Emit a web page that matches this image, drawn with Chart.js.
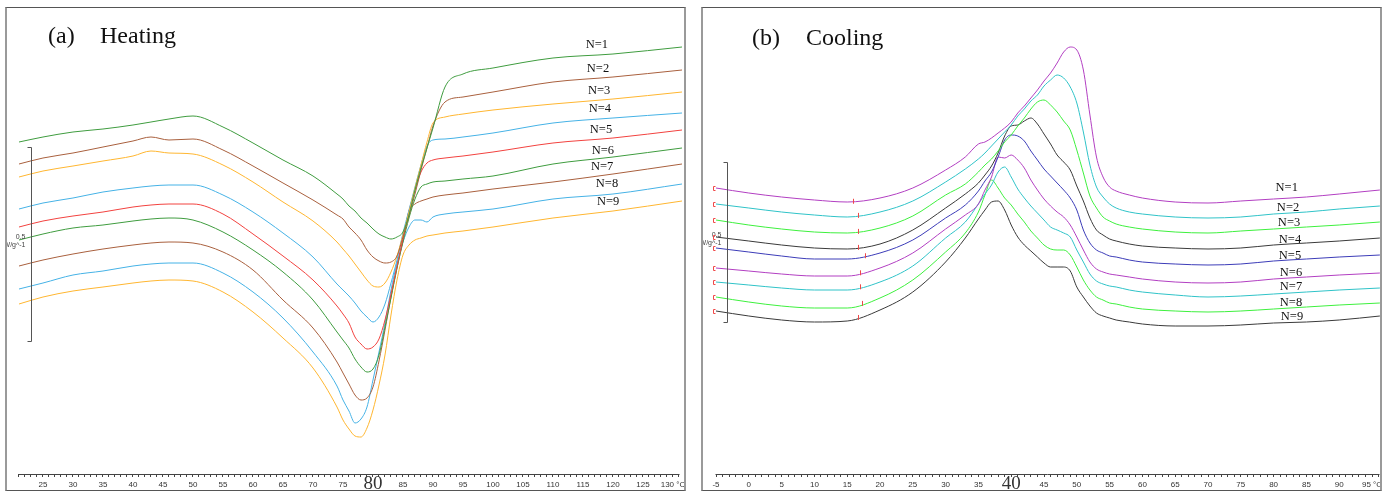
<!DOCTYPE html>
<html><head><meta charset="utf-8">
<script src="https://cdn.jsdelivr.net/npm/chart.js@4.4.0/dist/chart.umd.min.js"></script>
<style>
html,body{margin:0;padding:0;background:#fff;width:1389px;height:491px;overflow:hidden;}
.wrap{position:absolute;}
.wrap canvas{display:block;}
.frame{position:absolute;box-sizing:border-box;border:1px solid #555;border-left:2px solid #9a9a9a;border-right:2px solid #9a9a9a;pointer-events:none;}
.title{position:absolute;font-family:"Liberation Serif","Times New Roman",serif;font-size:24px;line-height:24px;color:#111;white-space:pre;}
</style></head><body>
<div class="wrap" style="left:5px;top:7px;width:681px;height:484px"><canvas id="ca" width="681" height="484"></canvas></div>
<div class="frame" style="left:5px;top:7px;width:681px;height:484px"></div>
<div class="wrap" style="left:701px;top:7px;width:681px;height:484px"><canvas id="cb" width="681" height="484"></canvas></div>
<div class="frame" style="left:701px;top:7px;width:681px;height:484px"></div>
<div class="title" style="left:48px;top:23px">(a)</div>
<div class="title" style="left:100px;top:23px">Heating</div>
<div class="title" style="left:752px;top:25px">(b)</div>
<div class="title" style="left:806px;top:25px">Cooling</div>
<script>
// ---------- DATA (heat flow, arbitrary mW units, exo up) ----------
const heatT = [21,25,30,35,40,43,46,50,55,60,65,70,74,75,76,77,78,79,80,81,82,83,84,85,86,87,88,89,90,92,95,100,110,120,131.5];
const heatN1 = [3.58,3.63,3.68,3.71,3.75,3.78,3.81,3.84,3.73,3.57,3.40,3.24,3.06,3.01,2.94,2.89,2.82,2.77,2.71,2.66,2.63,2.61,2.63,2.68,2.85,3.10,3.32,3.52,3.72,4.13,4.26,4.32,4.42,4.46,4.53];
const heatN2 = [3.36,3.42,3.47,3.53,3.59,3.63,3.60,3.61,3.50,3.34,3.17,3.00,2.85,2.81,2.73,2.67,2.60,2.50,2.43,2.39,2.37,2.38,2.44,2.63,2.84,3.06,3.30,3.52,3.74,3.98,4.03,4.08,4.18,4.23,4.30];
const heatN3 = [3.23,3.29,3.34,3.39,3.44,3.49,3.47,3.46,3.35,3.18,2.98,2.79,2.58,2.51,2.44,2.36,2.28,2.20,2.14,2.13,2.17,2.28,2.44,2.65,2.88,3.12,3.35,3.58,3.77,3.83,3.86,3.90,3.96,4.01,4.08];
const heatN4 = [2.91,2.97,3.02,3.08,3.12,3.14,3.15,3.15,3.05,2.88,2.67,2.43,2.16,2.10,2.04,1.97,1.89,1.83,1.78,1.83,1.96,2.17,2.40,2.67,2.90,3.13,3.35,3.54,3.60,3.61,3.63,3.67,3.77,3.82,3.87];
const heatN5 = [2.73,2.79,2.84,2.88,2.93,2.95,2.96,2.96,2.86,2.66,2.44,2.20,1.94,1.86,1.77,1.63,1.56,1.51,1.53,1.61,1.80,2.06,2.34,2.61,2.89,3.10,3.28,3.37,3.40,3.42,3.44,3.48,3.57,3.62,3.70];
const heatN6 = [2.60,2.66,2.72,2.75,2.79,2.81,2.82,2.80,2.68,2.50,2.28,2.00,1.68,1.60,1.52,1.41,1.33,1.28,1.31,1.45,1.73,2.02,2.32,2.58,2.82,3.01,3.13,3.16,3.18,3.19,3.21,3.24,3.36,3.43,3.52];
const heatN7 = [2.34,2.40,2.46,2.51,2.55,2.57,2.58,2.57,2.48,2.30,2.00,1.72,1.38,1.27,1.16,1.05,1.00,1.02,1.13,1.39,1.70,2.03,2.32,2.60,2.89,2.96,2.99,3.01,3.03,3.05,3.07,3.11,3.18,3.26,3.36];
const heatN8 = [2.11,2.17,2.25,2.29,2.34,2.36,2.37,2.37,2.27,2.08,1.82,1.48,1.14,1.00,0.89,0.77,0.81,0.93,1.20,1.48,1.77,2.10,2.37,2.58,2.73,2.80,2.80,2.78,2.83,2.86,2.88,2.91,3.01,3.06,3.16];
const heatN9 = [1.96,2.03,2.09,2.13,2.17,2.19,2.20,2.19,2.08,1.88,1.62,1.32,0.93,0.80,0.71,0.64,0.63,0.72,0.90,1.15,1.45,1.85,2.20,2.45,2.55,2.60,2.62,2.64,2.65,2.67,2.69,2.73,2.82,2.89,2.99];

const coolT = [-5,0,5,10,15,20,25,30,33,35,36,37,38,39,40,41,42,43,44,45,46,47,48,49,50,51,52,53,54,55,56,58,60,65,70,75,80,85,90,96.2];
const coolN1 = [3.12,3.07,3.03,3.00,2.98,3.02,3.12,3.30,3.43,3.56,3.58,3.62,3.67,3.72,3.78,3.87,3.94,4.02,4.10,4.19,4.27,4.37,4.48,4.53,4.50,4.30,3.85,3.43,3.23,3.13,3.09,3.05,3.02,2.98,2.97,2.99,3.01,3.03,3.06,3.10];
const coolN2 = [2.96,2.92,2.88,2.85,2.83,2.88,2.99,3.18,3.31,3.41,3.47,3.54,3.61,3.68,3.75,3.84,3.91,3.99,4.05,4.14,4.20,4.25,4.22,4.13,3.97,3.68,3.35,3.13,3.03,2.96,2.92,2.88,2.86,2.83,2.82,2.83,2.86,2.88,2.91,2.94];
const coolN3 = [2.80,2.75,2.71,2.68,2.67,2.72,2.84,3.05,3.16,3.28,3.35,3.41,3.49,3.58,3.65,3.74,3.82,3.91,3.98,4.00,3.95,3.88,3.79,3.70,3.50,3.27,3.04,2.92,2.83,2.79,2.76,2.73,2.71,2.68,2.67,2.69,2.71,2.73,2.75,2.78];
const coolN4 = [2.63,2.59,2.55,2.52,2.51,2.56,2.70,2.92,3.06,3.17,3.25,3.34,3.47,3.64,3.74,3.75,3.79,3.82,3.76,3.66,3.56,3.45,3.38,3.30,3.14,2.99,2.82,2.70,2.65,2.61,2.59,2.56,2.54,2.52,2.51,2.52,2.55,2.57,2.59,2.62];
const coolN5 = [2.52,2.48,2.44,2.41,2.41,2.47,2.60,2.82,2.95,3.09,3.19,3.28,3.43,3.60,3.65,3.64,3.59,3.49,3.40,3.31,3.24,3.17,3.10,3.02,2.90,2.70,2.57,2.50,2.47,2.44,2.43,2.40,2.38,2.36,2.35,2.36,2.39,2.41,2.43,2.45];
const coolN6 = [2.32,2.29,2.26,2.24,2.24,2.32,2.47,2.71,2.85,2.96,3.10,3.23,3.43,3.42,3.45,3.40,3.32,3.20,3.10,3.01,2.94,2.88,2.83,2.75,2.63,2.50,2.38,2.31,2.28,2.26,2.25,2.23,2.21,2.18,2.17,2.18,2.21,2.23,2.25,2.27];
const coolN7 = [2.18,2.15,2.12,2.10,2.10,2.18,2.34,2.62,2.78,2.96,3.06,3.15,3.28,3.33,3.23,3.11,3.02,2.94,2.87,2.80,2.73,2.70,2.67,2.63,2.50,2.38,2.26,2.19,2.16,2.14,2.13,2.10,2.08,2.05,2.03,2.04,2.06,2.08,2.10,2.12];
const coolN8 = [2.03,1.98,1.94,1.92,1.92,2.02,2.20,2.48,2.67,2.88,3.05,3.20,3.12,3.02,2.95,2.86,2.78,2.69,2.62,2.55,2.51,2.50,2.50,2.45,2.33,2.20,2.10,2.03,2.00,1.97,1.96,1.93,1.91,1.89,1.88,1.89,1.91,1.93,1.95,1.97];
const coolN9 = [1.89,1.84,1.80,1.78,1.79,1.90,2.08,2.38,2.62,2.81,2.90,2.98,2.99,2.90,2.75,2.63,2.55,2.49,2.43,2.37,2.33,2.33,2.33,2.29,2.13,2.03,1.94,1.87,1.84,1.82,1.80,1.78,1.76,1.74,1.74,1.75,1.77,1.78,1.80,1.84];
// cursor temperatures (red marks) on cooling curves
const coolCursorT = [15.9,16.6,16.6,16.6,17.7,17.0,17.0,17.3,16.6];

const seriesNames = ['N=1','N=2','N=3','N=4','N=5','N=6','N=7','N=8','N=9'];
const heatTickLabels = [25,30,35,40,45,50,55,60,65,70,75,80,85,90,95,100,105,110,115,120,125,130];
const coolTickLabels = [-5,0,5,10,15,20,25,30,35,40,45,50,55,60,65,70,75,80,85,90,95];

// ---------- STYLE / LAYOUT ----------
const heatColors = ['#3f9c3f','#a9603e','#ffb630','#45b2e6','#f2423f','#3f9c3f','#a9603e','#45b2e6','#ffb630'];
const coolColors = ['#b23fc2','#2fc3c8','#3ef03e','#3a3a3a','#3c3cb8','#b23fc2','#2fc3c8','#3ef03e','#3a3a3a'];
const heatLabelPos = {t:[117.3,117.5,117.7,117.8,118.0,118.3,118.2,119.0,119.2], v:[4.55,4.31,4.09,3.91,3.70,3.49,3.33,3.16,2.98]};
const coolLabelPos = {t:[82.0,82.2,82.35,82.5,82.5,82.65,82.65,82.65,82.8], v:[3.12,2.92,2.77,2.60,2.44,2.27,2.13,1.97,1.83]};

function pts(T, V){ return T.map((t,i)=>({x:t, y:V[i]})); }
function interp(T, V, t){
  for (let i=0;i<T.length-1;i++){ if (t>=T[i] && t<=T[i+1]) { const f=(t-T[i])/(T[i+1]-T[i]); return V[i]+f*(V[i+1]-V[i]); } }
  return V[0];
}

const annot = {
  id:'annot',
  afterDatasetsDraw(chart, args, o){
    const ctx = chart.ctx, xs = chart.scales.x, ys = chart.scales.y;
    ctx.save();
    // axis baseline spanning the tick range
    const ax1 = Math.round(xs.getPixelForValue(o.axis[0])), ax2 = Math.round(xs.getPixelForValue(o.axis[1]));
    const ay = Math.round(xs.top)+0.5;
    ctx.strokeStyle='#444'; ctx.lineWidth=1;
    ctx.beginPath(); ctx.moveTo(ax1-0.5, ay); ctx.lineTo(ax2+0.5, ay); ctx.stroke();
    // scale bar
    const bx = Math.round(xs.getPixelForValue(o.bar.t))+0.5;
    const y1 = Math.round(ys.getPixelForValue(o.bar.v1))+0.5, y2 = Math.round(ys.getPixelForValue(o.bar.v2))+0.5;
    ctx.strokeStyle='#555'; ctx.lineWidth=1;
    ctx.beginPath(); ctx.moveTo(bx-4,y1); ctx.lineTo(bx,y1); ctx.lineTo(bx,y2); ctx.lineTo(bx-4,y2); ctx.stroke();
    ctx.fillStyle='#444'; ctx.font='7px "Liberation Sans", Arial, sans-serif';
    ctx.textAlign='right'; ctx.textBaseline='alphabetic';
    const mid=(y1+y2)/2;
    ctx.fillText('0.5', bx-6, mid-6);
    ctx.fillText('W/g^-1', bx-6, mid+2);
    // red marks
    if (o.marks){
      ctx.strokeStyle='#f04848'; ctx.lineWidth=1;
      o.marks.series.forEach((V,i)=>{
        const x0 = Math.round(xs.getPixelForValue(o.marks.startT))+0.5;
        const yv = Math.round(ys.getPixelForValue(V[0]))+0.5;
        ctx.beginPath(); ctx.moveTo(x0+2,yv-2); ctx.lineTo(x0,yv-2); ctx.lineTo(x0,yv+2); ctx.lineTo(x0+2,yv+2); ctx.stroke();
        const ct = o.marks.cursor[i];
        const xc = Math.round(xs.getPixelForValue(ct))+0.5;
        const yc = ys.getPixelForValue(interp(o.marks.T, V, ct));
        ctx.beginPath(); ctx.moveTo(xc,yc-2.5); ctx.lineTo(xc,yc+2.5); ctx.stroke();
      });
    }
    // N= labels
    ctx.fillStyle='#111'; ctx.font='12.5px "Liberation Serif", "Times New Roman", serif';
    ctx.textAlign='center'; ctx.textBaseline='middle';
    seriesNames.forEach((n,i)=>{
      ctx.fillText(n, xs.getPixelForValue(o.labels.t[i]), ys.getPixelForValue(o.labels.v[i]));
    });
    ctx.restore();
  }
};

function makeChart(id, T, seriesList, colors, xmin, xmax, tickFrom, tickTo, tickLabels, bigTick, bar, labels, marks){
  const ticksArr = []; for (let v=tickFrom; v<=tickTo; v++) ticksArr.push(v);
  const lastLab = tickLabels[tickLabels.length-1];
  return new Chart(document.getElementById(id), {
    type:'line',
    data:{ datasets: seriesList.map((V,i)=>({label:seriesNames[i], data:pts(T,V), borderColor:colors[i], borderWidth:1, pointRadius:0, fill:false, cubicInterpolationMode:'monotone'})) },
    options:{
      responsive:false, animation:false, devicePixelRatio:1,
      layout:{padding:0},
      plugins:{legend:{display:false}, tooltip:{enabled:false}, annot:{bar, labels, marks, axis:[tickFrom, tickTo]}},
      scales:{
        x:{type:'linear', min:xmin, max:xmax, bounds:'data',
          afterBuildTicks(s){ s.ticks = ticksArr.map(v=>({value:v})); },
          afterFit(s){ s.height = 17; },
          grid:{drawOnChartArea:false, drawTicks:true, tickLength:3, color:'#444', lineWidth:1},
          border:{display:false},
          ticks:{autoSkip:false, maxRotation:0, minRotation:0, padding:3, color:'#333',
            font:(c)=> (c.tick && c.tick.value===bigTick) ? {family:'"Liberation Serif", "Times New Roman", serif', size:19, lineHeight:0.45} : {family:'"Liberation Sans", Arial, sans-serif', size:8},
            callback:(v)=> v===bigTick ? String(v) : (v===lastLab ? v+' °C' : (tickLabels.includes(v) ? String(v) : ''))
          }
        },
        y:{display:false, min:0.26, max:4.93}
      }
    },
    plugins:[annot]
  });
}

makeChart('ca', heatT, [heatN1,heatN2,heatN3,heatN4,heatN5,heatN6,heatN7,heatN8,heatN9], heatColors,
  18.667, 132.167, 21, 131, heatTickLabels, 80,
  {t:23.0, v1:3.53, v2:1.59}, heatLabelPos, null);
makeChart('cb', coolT, [coolN1,coolN2,coolN3,coolN4,coolN5,coolN6,coolN7,coolN8,coolN9], coolColors,
  -7.287, 96.524, -5, 96, coolTickLabels, 40,
  {t:-3.32, v1:3.38, v2:1.78}, coolLabelPos,
  {startT:-5.45, cursor:coolCursorT, T:coolT, series:[coolN1,coolN2,coolN3,coolN4,coolN5,coolN6,coolN7,coolN8,coolN9]});
</script>
</body></html>
